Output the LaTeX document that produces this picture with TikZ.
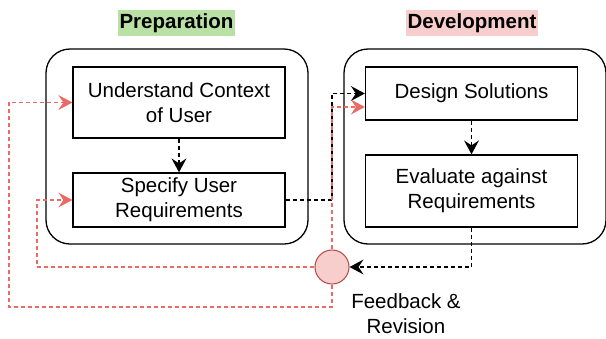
\documentclass[tikz,border=0pt]{standalone}
\usepackage{fontspec}
\setmainfont{Liberation Sans}
\usetikzlibrary{arrows.meta}
\definecolor{redline}{HTML}{EA6B66}
\definecolor{redfill}{HTML}{F8CECC}
\definecolor{redstroke}{HTML}{B85450}
\definecolor{greenfill}{HTML}{B9E0A5}
\tikzset{
  boxtext/.style={font=\fontsize{20.5}{25}\selectfont, align=center},
  phase/.style={draw, line width=1.3pt, rounded corners=24pt, minimum width=262pt, inner sep=0pt},
  stepbox/.style={boxtext, draw, line width=1.3pt, inner sep=0pt, minimum width=212pt},
  title/.style={font=\fontsize{20.5}{25}\selectfont\bfseries, inner xsep=1.5pt, inner ysep=3pt, text height=15pt, text depth=5pt},
  tip/.tip={Stealth[length=14pt,width=15pt,inset=5pt,line width=0pt]},
  flow/.style={line width=1.2pt, dash pattern=on 4pt off 3pt, -tip},
  feedback/.style={flow, draw=redline},
}
\begin{document}
\begin{tikzpicture}[x=1pt, y=-1pt]
\useasboundingbox (0,0) rectangle (606,338);

% phase headings
\node[title, fill=greenfill] (prep) at (176.5,23) {Preparation};
\node[title, fill=redfill] (dev) at (472,23) {Development};

% phase containers
\node[phase, minimum height=195pt] (left) at (177,146.5) {};
\node[phase, minimum height=195pt] (right) at (475,146.5) {};

% steps
\node[stepbox, minimum height=71pt] (und) at (179,102.5) {Understand Context\\of User};
\node[stepbox, minimum height=54pt] (spec) at (179,200) {Specify User\\Requirements};
\node[stepbox, minimum height=53pt] (des) at (471.5,93.5) {Design Solutions};
\node[stepbox, minimum height=72pt] (eval) at (471.5,191) {Evaluate against\\Requirements};

% feedback hub
\node[circle, draw=redstroke, fill=redfill, line width=1.1pt, minimum size=34pt, inner sep=0pt] (fb) at (332,267) {};
\node[boxtext, inner sep=1pt] (fbtext) at (406,314) {Feedback \&\\Revision};

% turning points of the feedback loops
\coordinate (innerx) at (37,200);
\coordinate (outerx) at (9,307);

% forward flow
\draw[flow] (und) -- (spec);
\draw[flow] (des) -- (eval);
\draw[flow] (spec.east) -- (spec.east -| fb) |- (des.west);
\draw[flow] (eval.south) |- (fb.east);

% feedback loops
\draw[feedback] (fb.west) -| (innerx) -- (spec.west);
\draw[feedback] (fb.south) |- (outerx) |- (und.west);
\draw[feedback] (fb.north) |- ([yshift=-13.5pt]des.west);
\end{tikzpicture}
\end{document}
